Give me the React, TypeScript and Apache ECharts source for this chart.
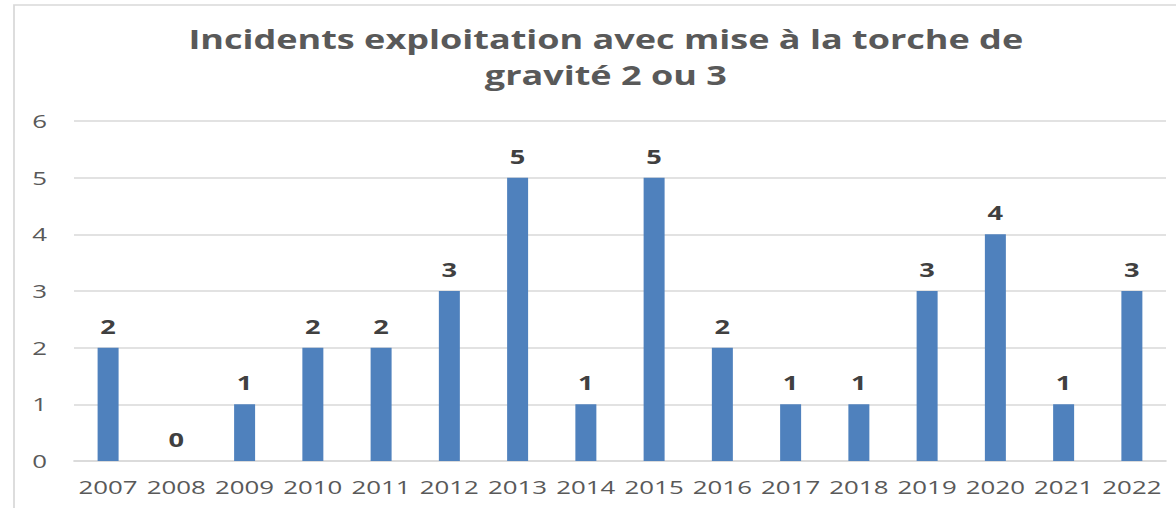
import React, { useEffect, useRef } from "react";
import * as echarts from "echarts";

const years = ["2007", "2008", "2009", "2010", "2011", "2012", "2013", "2014", "2015", "2016", "2017", "2018", "2019", "2020", "2021", "2022"];
const incidents = [2, 0, 1, 2, 2, 3, 5, 1, 5, 2, 1, 1, 3, 4, 1, 3];
const titleLines = ["Incidents exploitation avec mise à la torche de", "gravité 2 ou 3"];

// The reference picture is horizontally stretched; draw at a narrower width and stretch it.
const STRETCH = 1.36;
const W = Math.round(1176 / STRETCH);

export default function App() {
  const ref = useRef<HTMLDivElement>(null);
  useEffect(() => {
    if (!ref.current) return;
    const chart = echarts.init(ref.current, null, { renderer: "svg" });
    chart.setOption({
      animation: false,
      backgroundColor: "#ffffff",
      graphic: [
        {
          type: "rect",
          shape: { x: 14 / STRETCH, y: 5, width: 1200, height: 600 },
          style: { fill: "none", stroke: "#d9d9d9", lineWidth: 1.3 },
          silent: true,
        },
        {
          type: "text",
          x: 606 / STRETCH,
          y: 39,
          style: {
            text: titleLines[0],
            font: "bold 26.5px 'Open Sans'",
            fill: "#595959",
            textAlign: "center",
            textVerticalAlign: "middle",
          },
        },
        {
          type: "text",
          x: 606 / STRETCH,
          y: 75,
          style: {
            text: titleLines[1],
            font: "bold 26.5px 'Open Sans'",
            fill: "#595959",
            textAlign: "center",
            textVerticalAlign: "middle",
          },
        },
      ],
      grid: { left: 74 / STRETCH, right: 10 / STRETCH, top: 121, bottom: 47, containLabel: false },
      xAxis: {
        type: "category",
        data: years,
        axisLine: { show: true, lineStyle: { color: "#d9d9d9", width: 1.5 } },
        axisTick: { show: false },
        axisLabel: { color: "#595959", fontSize: 19, fontFamily: "Open Sans", margin: 16, interval: 0, hideOverlap: false },
      },
      yAxis: {
        type: "value",
        min: 0,
        max: 6,
        interval: 1,
        axisLine: { show: false },
        axisTick: { show: false },
        splitLine: { lineStyle: { color: "#d9d9d9", width: 1.5 } },
        axisLabel: { color: "#595959", fontSize: 19, fontFamily: "Open Sans", margin: 27 / STRETCH },
      },
      series: [
        {
          type: "bar",
          data: incidents,
          barWidth: 21 / STRETCH,
          itemStyle: { color: "#4f81bd" },
          label: {
            show: true,
            position: "top",
            distance: 12,
            color: "#404040",
            fontSize: 20,
            fontWeight: "bold",
            fontFamily: "Open Sans",
          },
        },
      ],
    });
    return () => chart.dispose();
  }, []);
  return (
    <div
      ref={ref}
      style={{
        position: "fixed",
        left: 0,
        top: 0,
        width: W,
        height: 508,
        transform: `scaleX(${1176 / W})`,
        transformOrigin: "0 0",
      }}
    />
  );
}
